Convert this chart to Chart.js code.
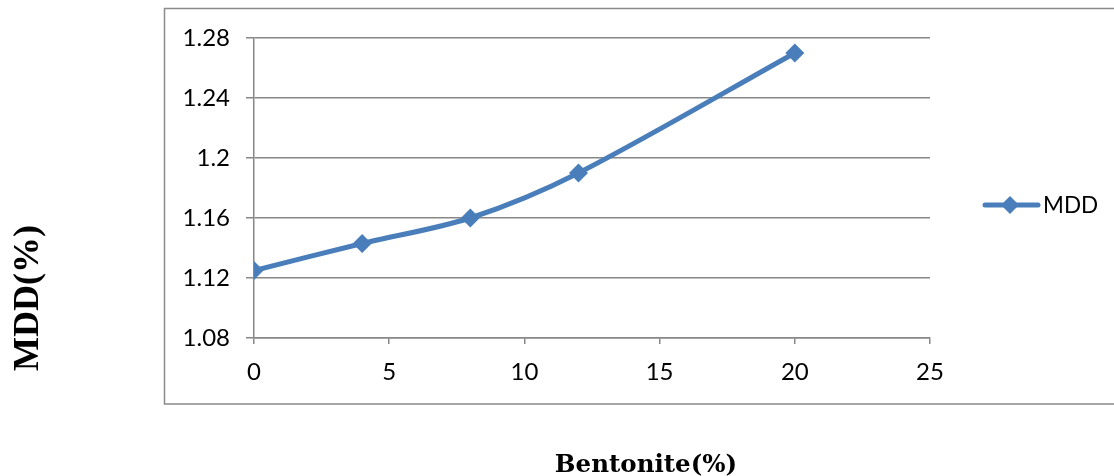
<!DOCTYPE html>
<html>
<head>
<meta charset="utf-8">
<script src="https://cdn.jsdelivr.net/npm/chart.js@4.4.1/dist/chart.umd.min.js"></script>
<style>
html,body{margin:0;padding:0;background:#fff;}
#wrap{width:1114px;height:476px;position:relative;}
</style>
</head>
<body>
<div id="wrap"><canvas id="c" width="1114" height="476"></canvas></div>
<script>
// Data
const bentonite = [0, 4, 8, 12, 20];
const mdd = [1.125, 1.143, 1.16, 1.19, 1.27];
const seriesLabel = 'MDD';
const yTickValues = [1.08, 1.12, 1.16, 1.2, 1.24, 1.28];
const yTickLabels = ['1.08', '1.12', '1.16', '1.2', '1.24', '1.28'];
const xTickValues = [0, 5, 10, 15, 20, 25];
const xTickLabels = ['0', '5', '10', '15', '20', '25'];
const xTitle = 'Bentonite(%)';
const yTitle = 'MDD(%)';

const LINE_COLOR = '#4A7EBB';
const GRID = '#878787';

const decor = {
  id: 'decor',
  beforeDraw(chart) {
    const ctx = chart.ctx;
    ctx.save();
    ctx.fillStyle = '#fff';
    ctx.fillRect(0, 0, chart.width, chart.height);
    ctx.strokeStyle = '#8a8a8a';
    ctx.lineWidth = 1.5;
    ctx.strokeRect(164.5, 8.5, 1000, 395.5);
    ctx.restore();
  },
  afterDraw(chart) {
    const ctx = chart.ctx;
    ctx.save();
    // legend
    const ly = 205;
    ctx.strokeStyle = LINE_COLOR;
    ctx.lineWidth = 5;
    ctx.lineCap = 'round';
    ctx.beginPath();
    ctx.moveTo(985, ly);
    ctx.lineTo(1038, ly);
    ctx.stroke();
    ctx.fillStyle = LINE_COLOR;
    ctx.beginPath();
    ctx.moveTo(1010, ly - 9);
    ctx.lineTo(1019, ly);
    ctx.lineTo(1010, ly + 9);
    ctx.lineTo(1001, ly);
    ctx.closePath();
    ctx.fill();
    ctx.fillStyle = '#000';
    ctx.font = '22.5px Lato';
    ctx.textAlign = 'left';
    ctx.textBaseline = 'middle';
    ctx.fillText(chart.data.datasets[0].label, 1043, ly + 1);
    // axis titles
    ctx.font = 'bold 24.5px "DejaVu Serif"';
    ctx.textAlign = 'center';
    ctx.textBaseline = 'alphabetic';
    ctx.fillText(xTitle, 646, 472);
    ctx.translate(38, 298);
    ctx.rotate(-Math.PI / 2);
    ctx.font = 'bold 36px "Liberation Serif"';
    ctx.fillText(yTitle, 0, 0);
    ctx.restore();
  }
};

new Chart(document.getElementById('c'), {
  type: 'line',
  data: {
    datasets: [{
      label: seriesLabel,
      data: bentonite.map((x, i) => ({x: x, y: mdd[i]})),
      borderColor: LINE_COLOR,
      backgroundColor: LINE_COLOR,
      borderWidth: 5,
      pointStyle: 'rectRot',
      pointRadius: 9.5,
      pointHoverRadius: 9.5,
      pointBorderWidth: 0,
      tension: 0.3,
      fill: false
    }]
  },
  options: {
    responsive: false,
    animation: false,
    events: [],
    layout: {padding: {left: 0, right: 184, top: 38, bottom: 0}},
    plugins: {legend: {display: false}, tooltip: {enabled: false}},
    scales: {
      x: {
        type: 'linear',
        min: 0, max: 25,
        afterFit(s) { s.height = 138; },
        afterBuildTicks(s) { s.ticks = xTickValues.map(v => ({value: v})); },
        grid: {drawOnChartArea: false, drawTicks: true, tickLength: 6, color: GRID, lineWidth: 1.5},
        border: {display: true, color: GRID, width: 1.5},
        ticks: {
          padding: 14,
          color: '#000',
          font: {family: 'Lato', size: 24},
          callback: (v, i) => xTickLabels[i]
        }
      },
      y: {
        type: 'linear',
        min: 1.08, max: 1.28,
        afterFit(s) { s.width = 254; },
        afterBuildTicks(s) { s.ticks = yTickValues.map(v => ({value: v})); },
        grid: {drawOnChartArea: true, drawTicks: true, tickLength: 8, color: GRID, lineWidth: 1.5},
        border: {display: true, color: GRID, width: 1.5},
        ticks: {
          padding: 16,
          color: '#000',
          font: {family: 'Lato', size: 24},
          callback: (v, i) => yTickLabels[i]
        }
      }
    }
  },
  plugins: [decor]
});
</script>
</body>
</html>
